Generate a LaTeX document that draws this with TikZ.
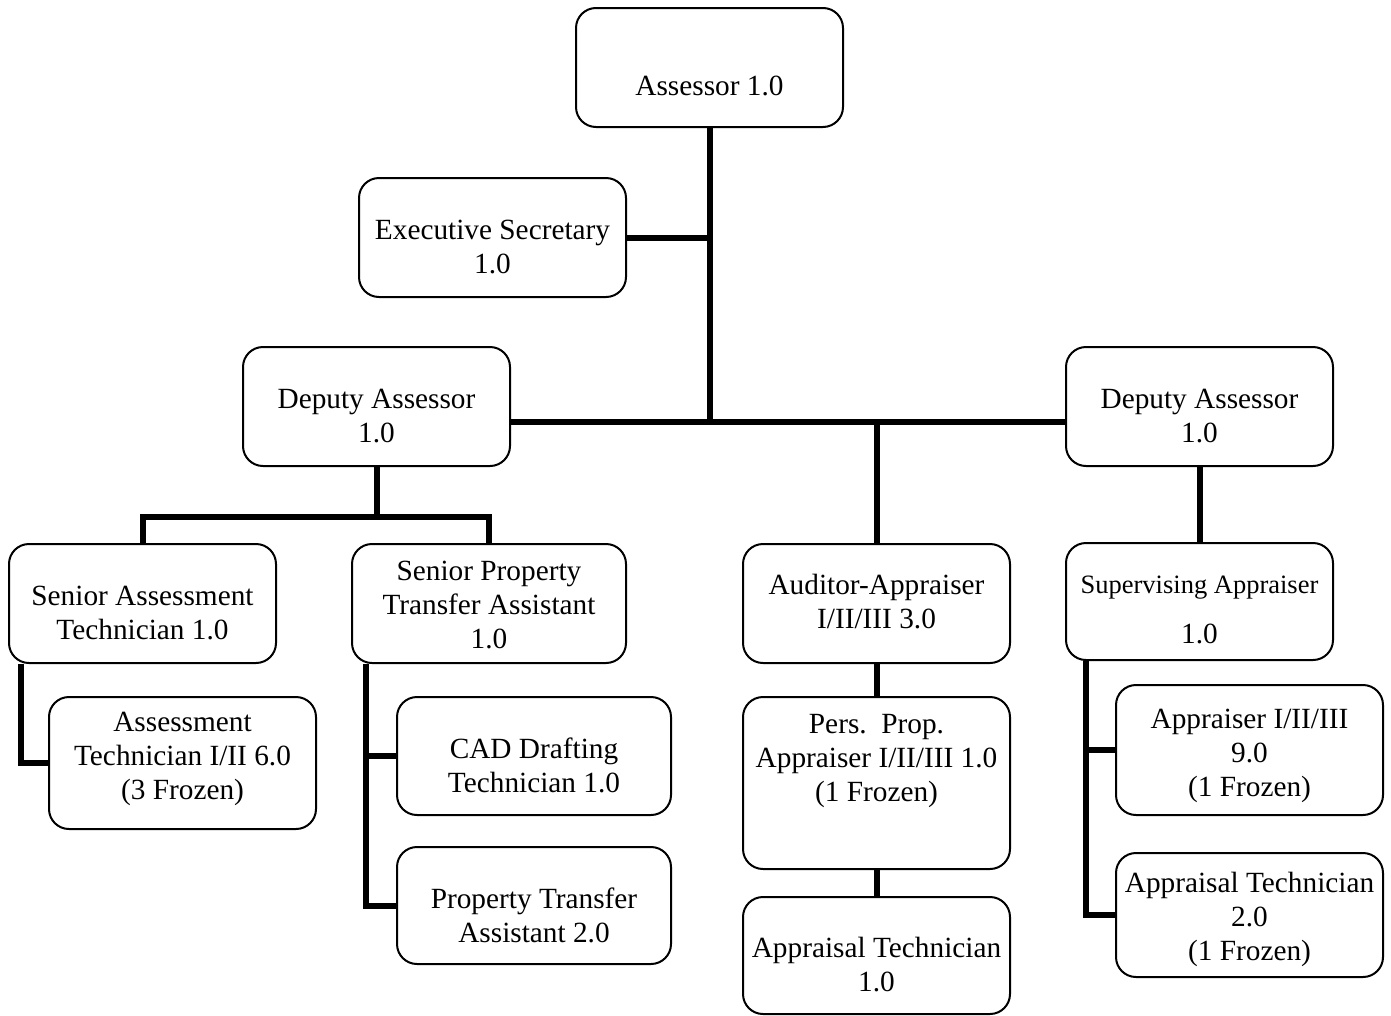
\documentclass[tikz,border=0pt]{standalone}
\usepackage{fontspec}
\setmainfont{Liberation Serif}
\begin{document}
\begin{tikzpicture}[x=1pt,y=-1pt,
  box/.style 2 args={draw, line width=2pt, rounded corners=20pt, minimum width=#1, minimum height=#2, inner sep=0pt, fill=white},
  t/.style={align=center, inner sep=0pt, font=\fontsize{29.3}{34}\selectfont},
  conn/.style={line width=6pt}]
\useasboundingbox (0,0) rectangle (1391,1015);

% boxes
\node[box={267pt}{119pt}, label={[t,yshift=-18.5pt]center:{Assessor 1.0}}] (ass) at (709.5,67.5) {};
\node[box={267pt}{119pt}, label={[t,yshift=-9.5pt]center:{Executive Secretary\\1.0}}] (exec) at (492.5,237.5) {};
\node[box={267pt}{119pt}, label={[t,yshift=-9.5pt]center:{Deputy Assessor\\1.0}}] (dl) at (376.5,406.5) {};
\node[box={267pt}{119pt}, label={[t,yshift=-9.5pt]center:{Deputy Assessor\\1.0}}] (dr) at (1199.5,406.5) {};
\node[box={267pt}{119pt}, label={[t,yshift=-9.5pt]center:{Senior Assessment\\Technician 1.0}}] (sat) at (142.5,603.5) {};
\node[box={274pt}{119pt}, label={[t,yshift=-1.5pt]center:{Senior Property\\Transfer Assistant\\1.0}}] (spta) at (489,603.5) {};
\node[box={267pt}{132pt}, label={[t,yshift=4pt]center:{Assessment\\Technician I/II 6.0\\(3 Frozen)}}] (atech) at (182.5,763) {};
\node[box={274pt}{118pt}, label={[t,yshift=-9pt]center:{CAD Drafting\\Technician 1.0}}] (cad) at (534,756) {};
\node[box={274pt}{117pt}, label={[t,yshift=-9.5pt]center:{Property Transfer\\Assistant 2.0}}] (pta) at (534,905.5) {};
\node[box={267pt}{119pt}, label={[t,yshift=1.5pt]center:{Auditor-Appraiser\\I/II/III 3.0}}] (aud) at (876.5,603.5) {};
\node[box={267pt}{172pt}, label={[t,yshift=22pt]center:{Pers.\ \ Prop.\\Appraiser I/II/III 1.0\\(1 Frozen)}}] (pers) at (876.5,783) {};
\node[box={267pt}{117pt}, label={[t,yshift=-9.5pt]center:{Appraisal Technician\\1.0}}] (aptc) at (876.5,955.5) {};
\node[box={267pt}{117pt}, label={[t,yshift=-8.5pt]center:{{\fontsize{26.5}{30}\selectfont Supervising Appraiser}\\[16pt]1.0}}] (sup) at (1199.5,601.5) {};
\node[box={267pt}{130pt}, label={[t,yshift=-6pt]center:{Appraiser I/II/III\\9.0\\(1 Frozen)}}] (appr) at (1249.5,750) {};
\node[box={267pt}{124pt}, label={[t,yshift=-4.5pt]center:{Appraisal Technician\\2.0\\(1 Frozen)}}] (aptr) at (1249.5,915) {};

% connectors
\coordinate (hub) at (709.5,422);
\coordinate (dlbar) at (376.5,517);
\coordinate (satspine) at ([xshift=13pt]sat.south west);
\coordinate (sptaspine) at ([xshift=15pt]spta.south west);
\coordinate (supspine) at ([xshift=21pt]sup.south west);
\draw[conn] (ass.south) -- (hub);
\draw[conn] (exec.east) -- (exec.east -| hub);
\draw[conn] (dl.east |- hub) -- (dr.west |- hub);
\draw[conn] (aud.north |- hub) -- (aud.north);
\draw[conn] (dl.south) -- (dlbar);
\draw[conn] (sat.north) -- (sat.north |- dlbar) -- (spta.north |- dlbar) -- (spta.north);
\draw[conn] (satspine) |- (atech.west);
\draw[conn] (sptaspine) |- (pta.west);
\draw[conn] (cad.west) -- (cad.west -| sptaspine);
\draw[conn] (aud.south) -- (pers.north);
\draw[conn] (pers.south) -- (aptc.north);
\draw[conn] (dr.south) -- (sup.north);
\draw[conn] (supspine) |- (aptr.west);
\draw[conn] (appr.west) -- (appr.west -| supspine);
\end{tikzpicture}
\end{document}
